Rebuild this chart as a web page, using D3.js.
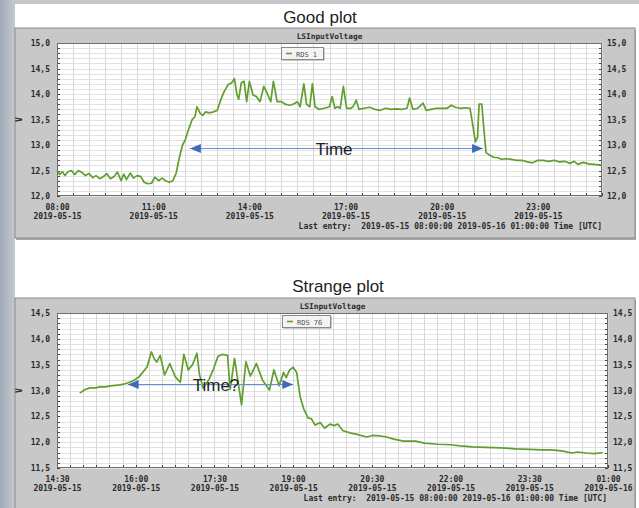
<!DOCTYPE html>
<html><head><meta charset="utf-8">
<script src="https://cdn.jsdelivr.net/npm/d3@7/dist/d3.min.js"></script>
<style>
body{margin:0;padding:0;background:#fff;}
svg{display:block;}
.mono{font-family:"DejaVu Sans Mono","Liberation Mono",monospace;font-weight:bold;}
</style></head>
<body>
<svg id="c" width="639" height="508"></svg>
<script>
// ---------- DATA ----------
const seriesTitle = "LSInputVoltage";
const goodLegend = "RDS 1";
const strangeLegend = "RDS 76";
const lastEntry = "Last entry:  2019-05-15 08:00:00 2019-05-16 01:00:00 Time [UTC]";

const goodTimes = ["08:00","08:05","08:10","08:15","08:20","08:27","08:33","08:40","08:47","08:53",
"09:00","09:07","09:13","09:20","09:27","09:33","09:40","09:47","09:53","10:00","10:05","10:10",
"10:17","10:23","10:30","10:37","10:43","10:50","10:57","11:03","11:10","11:17","11:23","11:30",
"11:37","11:43","11:50","11:55","12:00","12:06","12:13","12:18","12:22","12:28","12:33","12:38",
"12:45","12:53","13:00","13:07","13:13","13:20","13:27","13:32","13:37","13:40","13:45","13:50",
"13:55","14:00","14:07","14:13","14:20","14:27","14:33","14:40","14:45","14:52","15:00","15:07",
"15:15","15:22","15:30","15:35","15:42","15:47","15:53","15:58","16:03","16:10","16:20","16:30",
"16:35","16:40","16:45","16:50","16:56","17:02","17:10","17:14","17:20","17:25","17:35","17:45",
"17:55","18:05","18:15","18:25","18:35","18:45","18:55","19:00","19:06","19:15","19:25","19:31",
"19:40","19:50","20:00","20:10","20:18","20:25","20:35","20:45","20:53","20:58","21:03","21:07",
"21:10","21:15","21:19","21:23","21:30","21:37","21:45","21:52","22:00","22:10","22:20","22:30",
"22:40","22:50","23:00","23:10","23:20","23:30","23:40","23:50","00:00","00:08","00:15","00:25",
"00:35","00:45","00:55","01:00"];
const goodValues = [12.50,12.42,12.48,12.40,12.47,12.50,12.42,12.50,12.46,12.40,
12.44,12.36,12.40,12.34,12.38,12.44,12.34,12.38,12.47,12.30,12.43,12.32,
12.45,12.35,12.40,12.38,12.27,12.24,12.25,12.37,12.30,12.35,12.30,12.27,
12.30,12.45,12.80,13.00,13.10,13.30,13.50,13.55,13.75,13.62,13.58,13.65,
13.63,13.65,13.68,13.90,14.05,14.18,14.22,14.30,13.98,13.90,14.22,14.25,
13.85,14.25,13.98,13.95,13.85,14.15,14.02,13.85,14.25,13.85,13.85,13.80,
13.78,13.80,13.85,13.75,14.20,13.80,13.75,14.20,13.75,13.70,13.72,13.75,
13.95,13.72,13.75,13.72,14.15,13.72,13.72,13.75,13.88,13.70,13.72,13.74,
13.70,13.68,13.72,13.70,13.71,13.70,13.72,13.92,13.70,13.72,13.82,13.68,
13.70,13.72,13.72,13.72,13.78,13.74,13.72,13.73,13.72,13.40,13.06,13.15,
13.80,13.80,13.30,12.85,12.80,12.76,12.75,12.72,12.73,12.72,12.70,12.70,
12.67,12.65,12.70,12.70,12.68,12.70,12.67,12.68,12.64,12.68,12.62,12.66,
12.63,12.62,12.61,12.61];

const strangeTimes = ["14:56","15:02","15:08","15:14","15:19","15:25","15:31","15:37","15:42","15:48",
"15:53","15:58","16:03","16:08","16:13","16:18","16:21","16:24","16:28","16:33","16:39","16:45",
"16:51","16:55","17:00","17:05","17:10","17:13","17:17","17:24","17:29","17:34","17:39","17:45",
"17:48","17:53","18:01","18:06","18:11","18:18","18:25","18:33","18:38","18:44","18:49","18:52",
"18:56","19:00","19:04","19:08","19:12","19:17","19:21","19:25","19:31","19:36","19:42","19:47",
"19:51","19:57","20:05","20:13","20:24","20:31","20:40","20:47","20:55","21:06","21:20","21:30",
"21:45","22:00","22:11","22:25","22:40","22:58","23:15","23:30","23:45","23:55","00:07","00:19",
"00:25","00:35","00:45","00:54"];
const strangeValues = [12.95,13.02,13.05,13.05,13.07,13.07,13.09,13.10,13.11,13.13,
13.16,13.20,13.25,13.35,13.46,13.75,13.62,13.55,13.68,13.30,13.52,13.27,
13.16,13.70,13.40,13.50,13.72,13.30,13.05,13.22,13.42,13.66,13.70,13.68,
13.02,13.62,12.72,13.56,13.28,13.52,13.20,13.01,13.40,13.09,13.35,13.25,
13.40,13.45,13.35,12.88,12.65,12.47,12.45,12.33,12.38,12.27,12.35,12.32,
12.35,12.22,12.18,12.15,12.10,12.13,12.12,12.10,12.06,12.02,12.02,11.98,
11.96,11.95,11.93,11.91,11.90,11.89,11.87,11.86,11.85,11.85,11.83,11.79,
11.81,11.79,11.78,11.80];

const goodYTicks = [12.0,12.5,13.0,13.5,14.0,14.5,15.0];
const strangeYTicks = [11.5,12.0,12.5,13.0,13.5,14.0,14.5];
const goodXTicks = ["08:00","11:00","14:00","17:00","20:00","23:00"];
const strangeXTicks = ["14:30","16:00","17:30","19:00","20:30","22:00","23:30","01:00"];

// ---------- HELPERS ----------
function toDate(s){
  const [h,m] = s.split(":").map(Number);
  return new Date(2019, 4, h < 8 ? 16 : 15, h, m);
}
const svg = d3.select("#c");
const lineColor = "#609f2f";
const txt = "#2b2b2b";

const defs = svg.append("defs");
const lg = defs.append("linearGradient").attr("id","side").attr("x1","0").attr("x2","1");
lg.append("stop").attr("offset","0").attr("stop-color","#9fa9b4");
lg.append("stop").attr("offset","1").attr("stop-color","#c4cad0");
const mk = defs.append("marker").attr("id","ah").attr("viewBox","0 0 12 10")
  .attr("refX",12).attr("refY",5).attr("markerWidth",13).attr("markerHeight",9)
  .attr("markerUnits","userSpaceOnUse").attr("orient","auto-start-reverse");
mk.append("path").attr("d","M0,0 L12,5 L0,10 Z").attr("fill","#3d6cb7");

svg.append("rect").attr("width",639).attr("height",508).attr("fill","#ffffff");
svg.append("rect").attr("width",639).attr("height",4).attr("fill","#c3c7cb");
svg.append("rect").attr("width",15).attr("height",508).attr("fill","url(#side)");

function drawChart(cfg){
  const g = svg.append("g");
  g.append("rect").attr("x",cfg.panel[0]+1).attr("y",cfg.panel[1]+2).attr("width",cfg.panel[2]).attr("height",cfg.panel[3])
    .attr("fill","#a9a9a9");
  g.append("rect").attr("x",cfg.panel[0]).attr("y",cfg.panel[1]).attr("width",cfg.panel[2]).attr("height",cfg.panel[3])
    .attr("fill","#c8c8c8").attr("stroke","#8c8c8c").attr("stroke-width",1);

  const [px,py,pw,ph] = cfg.plot;
  const x = d3.scaleTime().domain([toDate(cfg.xDomain[0]), toDate(cfg.xDomain[1])]).range([px, px+pw]);
  const y = d3.scaleLinear().domain(cfg.yDomain).range([py+ph, py]);

  g.append("rect").attr("x",px).attr("y",py).attr("width",pw).attr("height",ph).attr("fill","#fff");

  const yMinor = d3.range(cfg.yDomain[0], cfg.yDomain[1]+1e-6, 0.1);
  g.append("g").selectAll("line").data(yMinor).join("line")
    .attr("x1",px).attr("x2",px+pw).attr("y1",d=>Math.round(y(d))+0.5).attr("y2",d=>Math.round(y(d))+0.5)
    .attr("stroke","#e3e3e3").attr("stroke-width",1);
  const xMinor = x.ticks(d3.timeMinute.every(cfg.minorMin));
  g.append("g").selectAll("line").data(xMinor).join("line")
    .attr("x1",d=>Math.round(x(d))+0.5).attr("x2",d=>Math.round(x(d))+0.5).attr("y1",py).attr("y2",py+ph)
    .attr("stroke","#d8d8d8").attr("stroke-width",1);

  g.append("g").selectAll("line").data(xMinor).join("line")
    .attr("x1",d=>Math.round(x(d))+0.5).attr("x2",d=>Math.round(x(d))+0.5).attr("y1",py+ph-3).attr("y2",py+ph)
    .attr("stroke","#444");
  g.append("g").selectAll("line").data(yMinor).join("line")
    .attr("x1",px).attr("x2",px+3).attr("y1",d=>Math.round(y(d))+0.5).attr("y2",d=>Math.round(y(d))+0.5)
    .attr("stroke","#444");
  g.append("g").selectAll("line").data(yMinor).join("line")
    .attr("x1",px+pw-3).attr("x2",px+pw).attr("y1",d=>Math.round(y(d))+0.5).attr("y2",d=>Math.round(y(d))+0.5)
    .attr("stroke","#444");

  g.append("rect").attr("x",px+0.5).attr("y",py+0.5).attr("width",pw-1).attr("height",ph-1)
    .attr("fill","none").attr("stroke","#6e6e6e");

  const data = cfg.times.map((t,i)=>({t:toDate(t), v:cfg.values[i]}));
  g.append("path").datum(data)
    .attr("d", d3.line().x(d=>x(d.t)).y(d=>y(d.v)))
    .attr("fill","none").attr("stroke",lineColor).attr("stroke-width",1.7).attr("stroke-linejoin","round");

  const fmt = d=>d.toFixed(1).replace(".",",");
  const yl = g.append("g").attr("transform",`translate(${px},0)`)
    .call(d3.axisLeft(y).tickValues(cfg.yTicks).tickFormat(fmt).tickSize(0).tickPadding(7));
  const yr = g.append("g").attr("transform",`translate(${px+pw},0)`)
    .call(d3.axisRight(y).tickValues(cfg.yTicks).tickFormat(fmt).tickSize(0).tickPadding(5));
  [yl,yr].forEach(a=>{
    a.select(".domain").remove();
    a.selectAll("text").attr("class","mono").attr("font-size",8).attr("fill",txt);
  });

  const xa = g.append("g").attr("transform",`translate(0,${py+ph})`)
    .call(d3.axisBottom(x).tickValues(cfg.xTicks.map(toDate)).tickSize(0).tickPadding(8)
      .tickFormat(d3.timeFormat("%H:%M")));
  xa.select(".domain").remove();
  xa.selectAll("text").attr("class","mono").attr("font-size",8).attr("fill",txt)
    .each(function(d){
      const t = d3.select(this); const s = t.text(); t.text(null);
      t.append("tspan").attr("x",0).attr("dy","0.71em").text(s);
      t.append("tspan").attr("x",0).attr("dy","1.15em").text(d3.timeFormat("%Y-%m-%d")(d));
    });

  g.append("text").attr("class","mono").attr("font-size",8).attr("fill",txt)
    .attr("transform",`translate(22,${py+ph/2}) rotate(-90)`).attr("text-anchor","middle").text("V");

  g.append("text").attr("class","mono").attr("font-size",7.8).attr("fill",txt)
    .attr("x",px+pw/2).attr("y",py-4).attr("text-anchor","middle").text(seriesTitle);

  const [lx,ly,lw,lh] = cfg.legend;
  g.append("rect").attr("x",lx+1.5).attr("y",ly+1.5).attr("width",lw).attr("height",lh).attr("fill","#9a9a9a");
  g.append("rect").attr("x",lx+0.5).attr("y",ly+0.5).attr("width",lw).attr("height",lh).attr("fill","#f4f4f4").attr("stroke","#888");
  g.append("line").attr("x1",lx+5).attr("x2",lx+11).attr("y1",ly+lh/2+0.5).attr("y2",ly+lh/2+0.5)
    .attr("stroke",lineColor).attr("stroke-width",1.6);
  g.append("text").attr("x",lx+15).attr("y",ly+lh/2+3.5).attr("font-family","DejaVu Sans Mono, monospace")
    .attr("font-size",7).attr("fill","#555").text(cfg.legendText);

  g.append("text").attr("class","mono").attr("font-size",8).attr("fill",txt)
    .attr("x",cfg.lastEntry[0]).attr("y",cfg.lastEntry[1]).attr("text-anchor","end")
    .attr("xml:space","preserve").style("white-space","pre").text(lastEntry);

  svg.append("text").attr("x",cfg.heading[0]).attr("y",cfg.heading[1]).attr("text-anchor","middle")
    .attr("font-family","Liberation Sans, Arial, sans-serif").attr("font-size",17).attr("fill","#1e1e1e")
    .text(cfg.headingText);

  const a = cfg.arrow;
  g.append("line").attr("x1",x(toDate(a.from))).attr("x2",x(toDate(a.to))).attr("y1",a.y).attr("y2",a.y)
    .attr("stroke","#6a8fcc").attr("stroke-width",1.2)
    .attr("marker-start","url(#ah)").attr("marker-end","url(#ah)");
  g.append("text").attr("x",a.tx).attr("y",a.y+6).attr("text-anchor","middle")
    .attr("font-family","Liberation Sans, Arial, sans-serif").attr("font-size",17).attr("fill","#1e1e1e")
    .text(a.text);
}

drawChart({
  panel:[15,28,620,210], plot:[57,43,545,153],
  xDomain:["08:00","01:00"], minorMin:30, yDomain:[12,15],
  yTicks:goodYTicks, xTicks:goodXTicks, times:goodTimes, values:goodValues,
  legend:[281,47,42,12], legendText:goodLegend, lastEntry:[602,229],
  heading:[320,23], headingText:"Good plot",
  arrow:{from:"12:09", to:"21:17", y:148.5, tx:334, text:"Time"}
});
drawChart({
  panel:[15,298,620,215], plot:[57,313,551,155],
  xDomain:["14:30","01:00"], minorMin:15, yDomain:[11.5,14.5],
  yTicks:strangeYTicks, xTicks:strangeXTicks, times:strangeTimes, values:strangeValues,
  legend:[282,315,48,12], legendText:strangeLegend, lastEntry:[607,501],
  heading:[338,292], headingText:"Strange plot",
  arrow:{from:"15:51", to:"19:00", y:384.5, tx:216, text:"Time?"}
});
</script>
</body></html>
